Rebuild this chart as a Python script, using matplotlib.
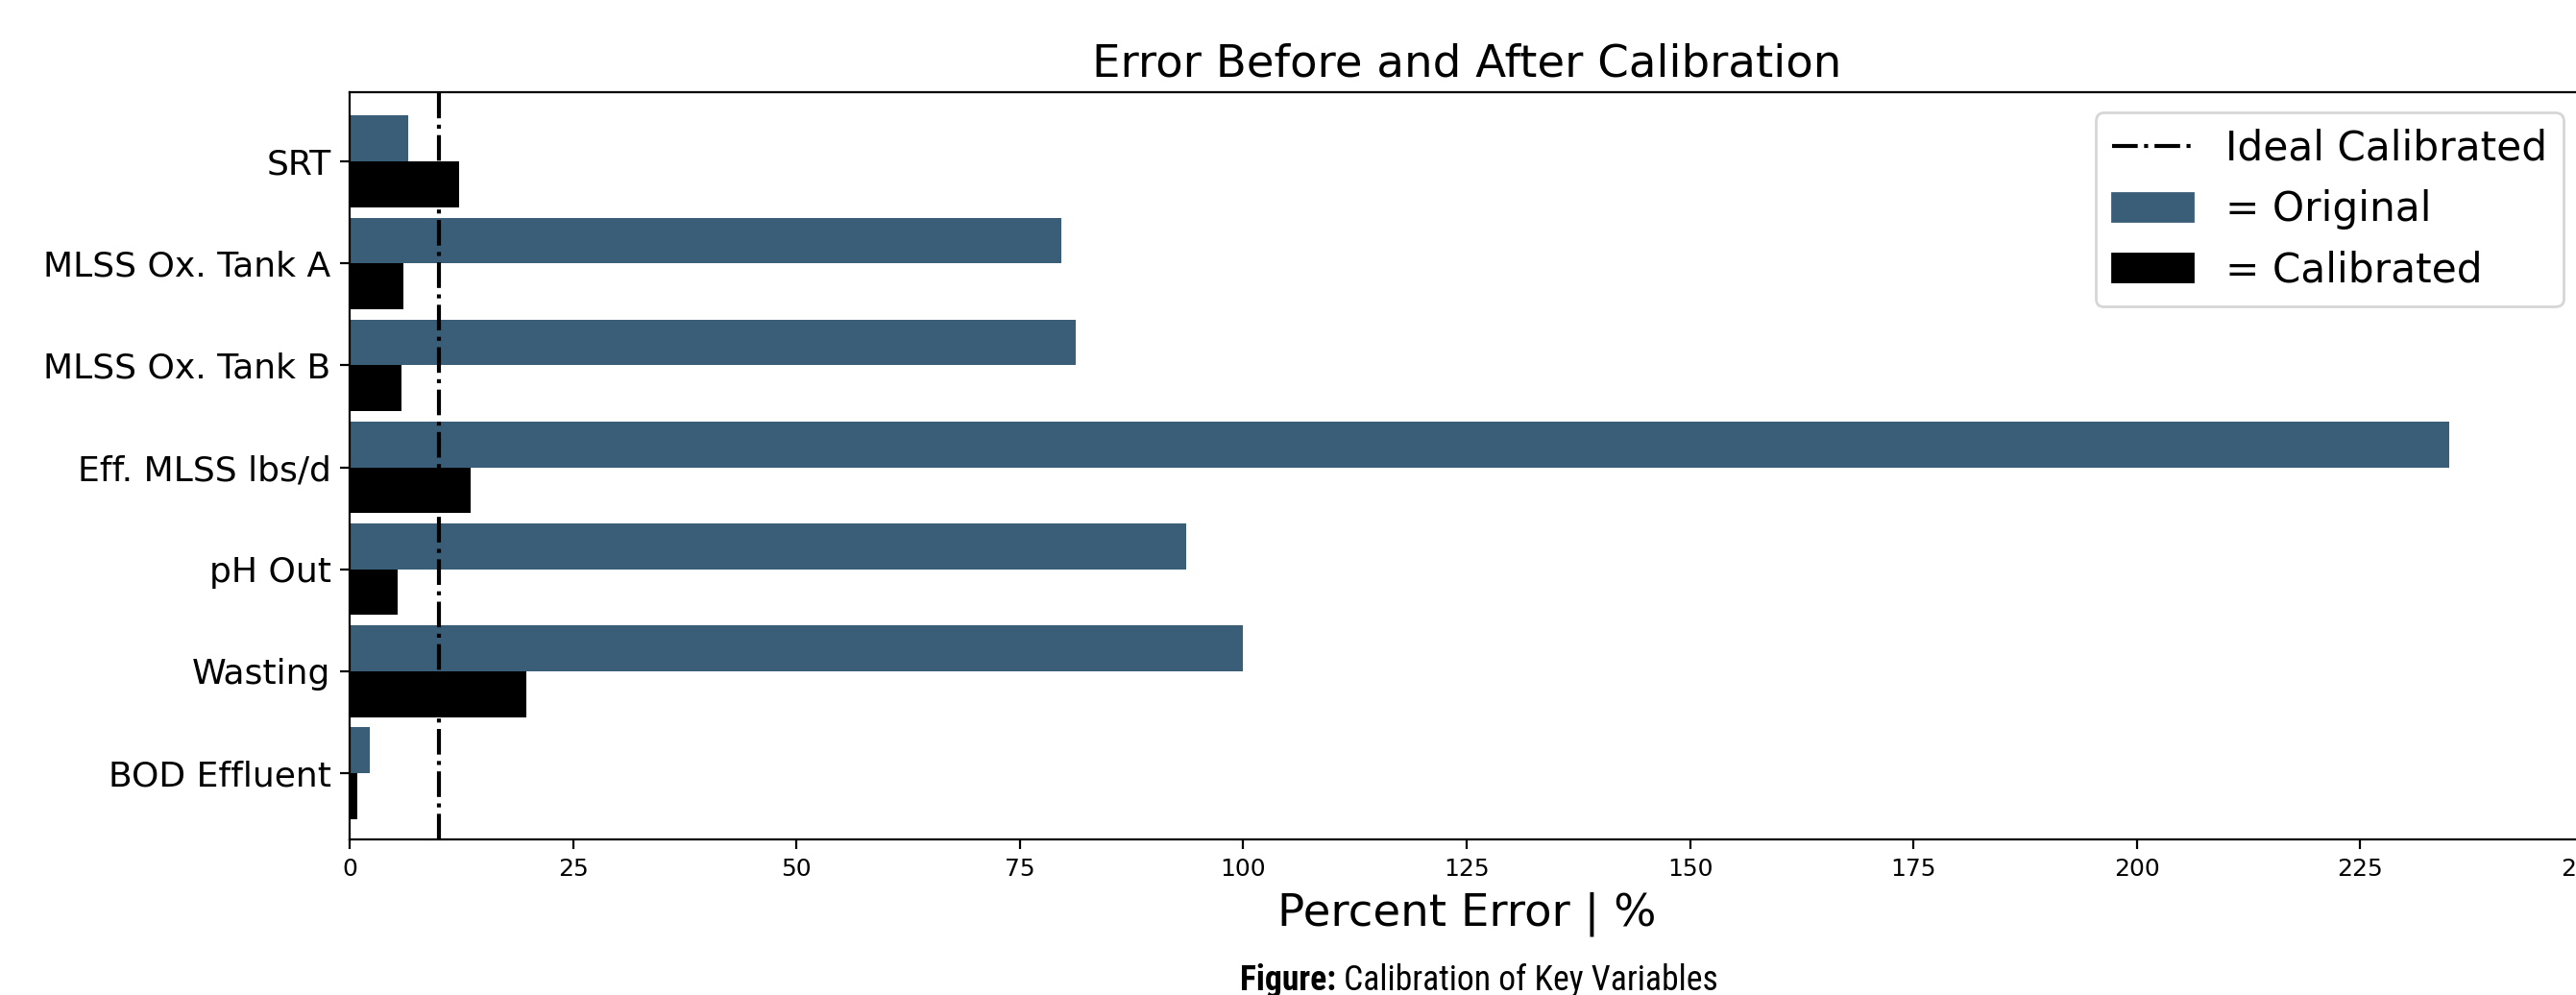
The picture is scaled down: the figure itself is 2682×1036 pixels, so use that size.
import matplotlib
matplotlib.use("Agg")
import matplotlib.pyplot as plt
from matplotlib.lines import Line2D
from matplotlib.patches import Patch
from matplotlib import font_manager as fm
import numpy as np

categories = ["SRT", "MLSS Ox. Tank A", "MLSS Ox. Tank B", "Eff. MLSS lbs/d",
              "pH Out", "Wasting", "BOD Effluent"]
original = [6.6, 79.6, 81.3, 234.9, 93.6, 100.0, 2.3]
calibrated = [12.3, 6.0, 5.8, 13.5, 5.4, 19.8, 0.9]
ideal = 10
xticks = [0, 25, 50, 75, 100, 125, 150, 175, 200, 225, 250]

blue = "#3a5d78"
W, H, DPI = 2682, 1036, 200
fig = plt.figure(figsize=(W / DPI, H / DPI), dpi=DPI)
ax = fig.add_axes([364 / W, (H - 874) / H, (2690 - 364) / W, (874 - 96) / H])

y = np.arange(len(categories))
h = 0.45
ax.barh(y - h / 2, original, height=h, color=blue)
ax.barh(y + h / 2, calibrated, height=h, color="black")
ax.axvline(ideal, color="black", linestyle="-.", linewidth=1.5)

ax.set_xlim(0, 250)
ax.set_ylim(6.65, -0.68)
ax.set_xticks(xticks)
ax.set_yticks(y)
ax.set_yticklabels(categories, fontsize=13, family="DejaVu Sans")
ax.tick_params(axis="x", labelsize=9)
ax.set_xlabel("Percent Error | %", fontsize=16.8)
ax.set_title("Error Before and After Calibration", fontsize=16.8)

handles = [Line2D([0], [0], color="black", linestyle="-.", linewidth=1.5),
           Patch(color=blue), Patch(color="black")]
labels = ["Ideal Calibrated", "= Original", "= Calibrated"]
ax.legend(handles, labels, loc="upper right", fontsize=15.2)

# caption font: prefer a narrow face if one is installed
names = {f.name for f in fm.fontManager.ttflist}
cap_family, cap_stretch = "Lato", "normal"
for cand in ["Liberation Sans Narrow", "Roboto Condensed", "Open Sans Condensed",
             "Noto Sans Display"]:
    if cand in names:
        cap_family = cand
        break
else:
    cond = [f for f in fm.fontManager.ttflist
            if f.name == "DejaVu Sans" and str(f.stretch) in ("condensed", "semi-condensed")]
    if cond:
        cap_family, cap_stretch = "DejaVu Sans", "condensed"

fig.canvas.draw()
r = fig.canvas.get_renderer()
cx = 1540 / W
cy = (H - 1031) / H
target_w = 498.0
fs = 12.0
t1 = fig.text(0, cy, "Figure:", fontsize=fs, fontweight="bold", family=cap_family,
              fontstretch=cap_stretch, va="baseline")
t2 = fig.text(0, cy, " Calibration of Key Variables", fontsize=fs, family=cap_family,
              fontstretch=cap_stretch, va="baseline")
tot = t1.get_window_extent(r).width + t2.get_window_extent(r).width
fs = fs * target_w / tot
t1.set_fontsize(fs)
t2.set_fontsize(fs)
w1 = t1.get_window_extent(r).width / W
w2 = t2.get_window_extent(r).width / W
x0 = cx - (w1 + w2) / 2
t1.set_x(x0)
t2.set_x(x0 + w1)

fig.savefig("out.png", dpi=DPI)
